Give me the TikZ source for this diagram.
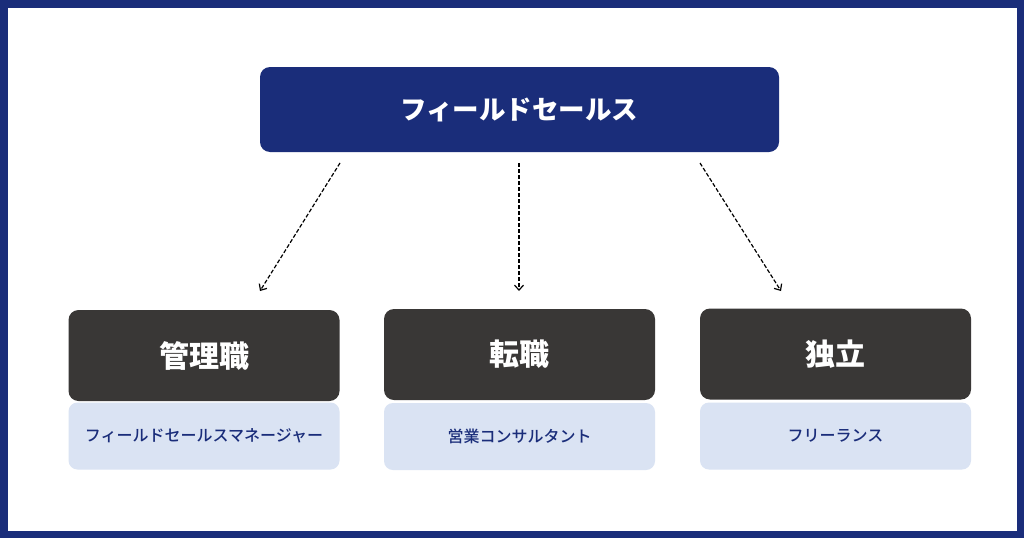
\documentclass[tikz,border=0pt]{standalone}
\usepackage{fontspec}
\setmainfont{Noto Sans CJK JP}
\newfontfamily\cjkmed{Noto Sans CJK JP Medium}
\usetikzlibrary{arrows.meta}
\definecolor{navy}{HTML}{1A2D7A}
\definecolor{darkbox}{HTML}{393736}
\definecolor{lightbox}{HTML}{DAE3F3}
\tikzset{
  topbox/.style={fill=navy, rounded corners=10pt, minimum width=519pt, minimum height=85pt, text=white, font=\bfseries\fontsize{26.5pt}{30pt}\selectfont, inner sep=0pt},
  catbox/.style={fill=darkbox, rounded corners=10pt, minimum width=271pt, minimum height=91pt, text=white, font=\bfseries\fontsize{30pt}{34pt}\selectfont, inner sep=0pt},
  subbox/.style={fill=lightbox, rounded corners=9pt, minimum width=271pt, minimum height=67pt, text=navy, font=\cjkmed\fontsize{16pt}{19pt}\selectfont, inner sep=0pt},
  link/.style={draw=black, dash pattern=on 4pt off 2pt, line width=1.2pt, -{Straight Barb[length=5pt,width=9pt,line width=1.2pt]}}
}
\begin{document}
\begin{tikzpicture}[x=1pt,y=-1pt]
\useasboundingbox (0,0) rectangle (1024,538);
\fill[white] (0,0) rectangle (1024,538);
\draw[navy, line width=7.5pt] (3.75,3.75) rectangle (1020.25,534.25);
% top node
\node[topbox] (top) at (519.5,109.5) {フィールドセールス};
% light boxes first (under dark boxes)
\node[subbox] (s1) at (204,436) {フィールドセールスマネージャー};
\node[subbox] (s2) at (519.5,436.5) {営業コンサルタント};
\node[subbox] (s3) at (835.5,436) {フリーランス};
\node[catbox] (c1) at (204,355.5) {管理職};
\node[catbox] (c2) at (519.5,354.5) {転職};
\node[catbox] (c3) at (835.5,354) {独立};
% connector endpoints
\coordinate (a1s) at (340,163);
\coordinate (a1e) at (260,291);
\coordinate (a2s) at (519,163);
\coordinate (a2e) at (519,291);
\coordinate (a3s) at (700,163);
\coordinate (a3e) at (781,291);
\draw[link] (a1s) -- (a1e);
\draw[link] (a2s) -- (a2e);
\draw[link] (a3s) -- (a3e);
\end{tikzpicture}
\end{document}
